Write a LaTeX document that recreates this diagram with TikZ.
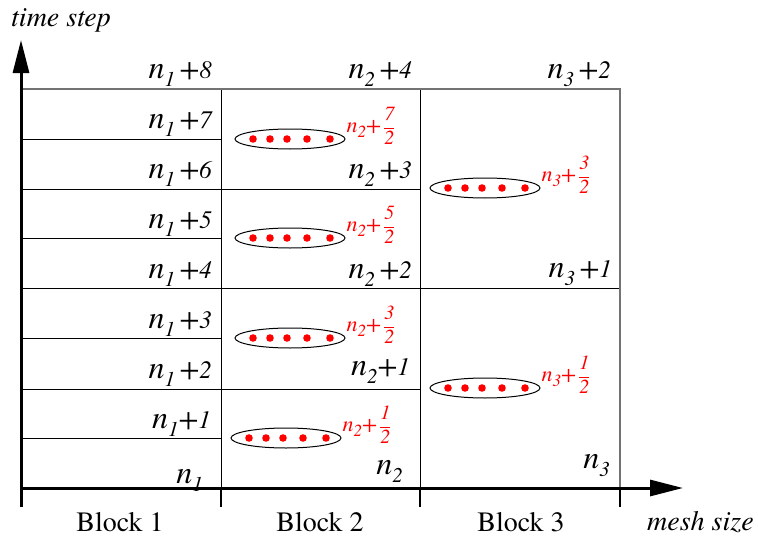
\documentclass[tikz,border=0pt]{standalone}
\usepackage{amsmath}
\usepackage{fontspec}
\IfFontExistsTF{texgyretermes-regular.otf}
  {\setmainfont{texgyretermes}[Extension=.otf,UprightFont=*-regular,ItalicFont=*-italic,BoldFont=*-bold,BoldItalicFont=*-bolditalic]}
  {\setmainfont{Liberation Serif}}
\usetikzlibrary{arrows.meta,positioning,shapes.geometric}

% level label n_k +j, and half level n_k + j/2
\newcommand{\nlab}[2]{{\fontsize{32}{34}\selectfont\itshape n}\raisebox{-8pt}{\fontsize{21}{23}\selectfont\itshape #1}{\itshape #2}}
\newcommand{\lplus}[2][4.5pt]{\hspace{#1}{\fontsize{29}{31}\selectfont +}{\fontsize{25}{27}\selectfont #2}}
\newcommand{\hlab}[2]{{\fontsize{22}{24}\selectfont\itshape n}\raisebox{-5pt}{\fontsize{17}{19}\selectfont\itshape #1}{\fontsize{22}{24}\selectfont\itshape +}\hspace{2pt}{\fontsize{19}{21}\selectfont$\genfrac{}{}{0.8pt}{0}{\mbox{\fontsize{20}{22}\selectfont\itshape #2}}{\mbox{\fontsize{20}{22}\selectfont\itshape 2}}$}}

\begin{document}
\begin{tikzpicture}[
    x=1pt, y=-1pt,
    grid/.style={line width=1pt},
    border/.style={line width=1.6pt, black!55},
    axis/.style={line width=3pt, -{Triangle[length=33pt,width=16pt]}},
    tick/.style={line width=1.2pt},
    ring/.style={
        draw,
        ellipse,
        line width=1pt,
        minimum width=110pt,
        minimum height=20pt,
        inner sep=0pt
    },
    lvl/.style={anchor=base east, inner sep=0pt},
    half/.style={text=red, inner sep=0pt, yshift=13pt},
    txt/.style={inner sep=0pt, font=\fontsize{28}{30}\selectfont}
]
\useasboundingbox (0,0) rectangle (758,538);

% ---- Grid ----
\foreach \y in {139,238,338,438}
    \draw[grid] (21,\y) -- (221,\y);
\draw[grid] (21,189) -- (420,189);
\draw[grid] (21,389) -- (420,389);
\draw[grid] (21,288) -- (620,288);
\draw[grid] (221,89) -- (221,488);
\draw[grid] (420,89) -- (420,488);
\draw[border] (21,89) -- (620,89) -- (620,488);

% ---- Axes ----
\coordinate (ybase) at (21,507);
\coordinate (ytip) at (21,40);
\coordinate (origin) at (21,488);
\coordinate (xtip) at (683,488);
\draw[axis] (ybase) -- (ytip);
\draw[axis] (origin) -- (xtip);
\foreach \x in {221,420,620}
    \draw[tick] (\x,490) -- (\x,507);

\node[txt, anchor=base west] (tlab) at (11,26) {\itshape time step};
\node[txt, anchor=base west] (mlab) at (647,530) {\itshape mesh size};
\node[txt, anchor=base] (blk1) at (120,531) {Block 1};
\node[txt, anchor=base] (blk2) at (320,531) {Block 2};
\node[txt, anchor=base] (blk3) at (521,531) {Block 3};

% ---- Block 1 levels ----
\node[lvl] (a8) at (212,78) {\nlab{1}{\lplus{8}}};
\node[lvl] (a7) at (212,128) {\nlab{1}{\lplus{7}}};
\node[lvl] (a6) at (212,178) {\nlab{1}{\lplus{6}}};
\node[lvl] (a5) at (212,228) {\nlab{1}{\lplus{5}}};
\node[lvl] (a4) at (212,278) {\nlab{1}{\lplus{4}}};
\node[lvl] (a3) at (212,328) {\nlab{1}{\lplus{3}}};
\node[lvl] (a2) at (212,378) {\nlab{1}{\lplus{2}}};
\node[lvl] (a1) at (211,428) {\nlab{1}{\lplus[0pt]{1}}};
\node[lvl] (a0) at (203,483) {\nlab{1}{}};

% ---- Block 2 levels ----
\node[lvl] (b4) at (412,78) {\nlab{2}{\lplus{4}}};
\node[lvl] (b3) at (412,178) {\nlab{2}{\lplus{3}}};
\node[lvl] (b2) at (412,278) {\nlab{2}{\lplus{2}}};
\node[lvl] (b1) at (410,375) {\nlab{2}{\lplus[0pt]{1}}};
\node[lvl] (b0) at (403,474) {\nlab{2}{}};

% ---- Block 3 levels ----
\node[lvl] (c2) at (611,78) {\nlab{3}{\lplus{2}}};
\node[lvl] (c1) at (612,277) {\nlab{3}{\lplus{1}}};
\node[lvl] (c0) at (610,468) {\nlab{3}{}};

% ---- Half steps ----
\node[ring] (e27) at (290,139) {};
\node[ring] (e25) at (290,238) {};
\node[ring] (e23) at (290,338) {};
\node[ring] (e21) at (286,438) {};
\node[ring] (e33) at (485,188) {};
\node[ring] (e31) at (485,388) {};

\foreach \e in {e27,e25,e23,e21,e33,e31}
    \foreach \dx in {-37,-20,-3,17,40}
        \fill[red, shift={(\e.center)}] (\dx,0) circle (3.8);

\node[half, right=1pt of e27] (h27) {\hlab{2}{7}};
\node[half, right=1pt of e25] (h25) {\hlab{2}{5}};
\node[half, right=1pt of e23] (h23) {\hlab{2}{3}};
\node[half, right=1pt of e21] (h21) {\hlab{2}{1}};
\node[half, right=1pt of e33] (h33) {\hlab{3}{3}};
\node[half, right=1pt of e31] (h31) {\hlab{3}{1}};

\end{tikzpicture}
\end{document}
